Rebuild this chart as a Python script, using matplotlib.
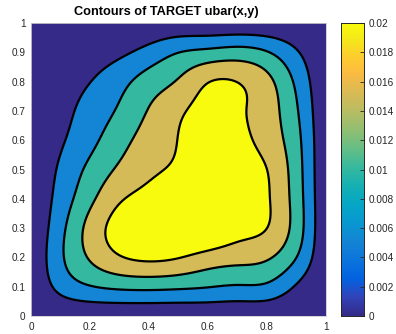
import numpy as np
import matplotlib
matplotlib.use("Agg")
import matplotlib.pyplot as plt
from matplotlib.colors import LinearSegmentedColormap, Normalize

# Sample grid of ubar(x, y) on [0,1]x[0,1] (rows: y, columns: x)
x_nodes = np.linspace(0.0, 1.0, 11)
y_nodes = np.linspace(0.0, 1.0, 11)
ubar = np.array([
    [0, 0,      0,      0,      0,      0,      0,      0,      0,      0,      0],
    [0, 0.0065, 0.0097, 0.0110, 0.0113, 0.0109, 0.0102, 0.0095, 0.0090, 0.0045, 0],
    [0, 0.0091, 0.0155, 0.0196, 0.0210, 0.0202, 0.0181, 0.0168, 0.0156, 0.0100, 0],
    [0, 0.0085, 0.0167, 0.0220, 0.0240, 0.0250, 0.0250, 0.0220, 0.0200, 0.0127, 0],
    [0, 0.0070, 0.0138, 0.0194, 0.0220, 0.0250, 0.0250, 0.0230, 0.0205, 0.0126, 0],
    [0, 0.0058, 0.0112, 0.0158, 0.0188, 0.0215, 0.0250, 0.0230, 0.0200, 0.0122, 0],
    [0, 0.0043, 0.0086, 0.0132, 0.0170, 0.0202, 0.0250, 0.0220, 0.0181, 0.0115, 0],
    [0, 0.0033, 0.0069, 0.0107, 0.0153, 0.0190, 0.0220, 0.0208, 0.0174, 0.0105, 0],
    [0, 0.0025, 0.0049, 0.0083, 0.0123, 0.0155, 0.0198, 0.0199, 0.0164, 0.0090, 0],
    [0, 0.0015, 0.0025, 0.0040, 0.0068, 0.0099, 0.0113, 0.0121, 0.0103, 0.0055, 0],
    [0, 0,      0,      0,      0,      0,      0,      0,      0,      0,      0],
])
contour_levels = [0.005, 0.010, 0.015, 0.020]
clim = (0.0, 0.02)
cbar_ticks = [0, 0.002, 0.004, 0.006, 0.008, 0.01, 0.012, 0.014, 0.016, 0.018, 0.02]
cbar_ticklabels = ["0", "0.002", "0.004", "0.006", "0.008", "0.01",
                   "0.012", "0.014", "0.016", "0.018", "0.02"]
x_ticks = [0, 0.2, 0.4, 0.6, 0.8, 1]
x_ticklabels = ["0", "0.2", "0.4", "0.6", "0.8", "1"]
y_ticks = [0, 0.1, 0.2, 0.3, 0.4, 0.5, 0.6, 0.7, 0.8, 0.9, 1]
y_ticklabels = ["0", "0.1", "0.2", "0.3", "0.4", "0.5", "0.6", "0.7", "0.8", "0.9", "1"]
title = "Contours of TARGET ubar(x,y)"

# parula-like colormap
parula_pts = [
    (0 / 63, (0.2081, 0.1663, 0.5292)),
    (4 / 63, (0.1959, 0.2645, 0.7279)),
    (8 / 63, (0.0117, 0.3875, 0.8820)),
    (12 / 63, (0.0498, 0.4586, 0.8641)),
    (16 / 63, (0.0793, 0.5200, 0.8312)),
    (20 / 63, (0.0343, 0.5966, 0.8199)),
    (24 / 63, (0.0228, 0.6535, 0.7768)),
    (28 / 63, (0.0843, 0.6928, 0.7062)),
    (32 / 63, (0.2178, 0.7250, 0.6193)),
    (36 / 63, (0.3953, 0.7459, 0.5244)),
    (40 / 63, (0.5709, 0.7485, 0.4494)),
    (44 / 63, (0.7184, 0.7411, 0.3905)),
    (48 / 63, (0.8507, 0.7299, 0.3360)),
    (52 / 63, (0.9739, 0.7314, 0.2666)),
    (54 / 63, (0.9990, 0.7653, 0.2164)),
    (56 / 63, (0.9880, 0.8066, 0.1794)),
    (60 / 63, (0.9598, 0.9218, 0.0948)),
    (63 / 63, (0.9763, 0.9831, 0.0538)),
]
parula = LinearSegmentedColormap.from_list("parula", parula_pts, N=256)
norm = Normalize(*clim)


def spline_matrix(nodes, fine):
    """Linear operator mapping node values to natural cubic spline values."""
    n = len(nodes)
    h = np.diff(nodes)
    # system for interior second derivatives
    A = np.zeros((n, n))
    A[0, 0] = A[-1, -1] = 1.0
    B = np.zeros((n, n))
    for i in range(1, n - 1):
        A[i, i - 1] = h[i - 1] / 6
        A[i, i] = (h[i - 1] + h[i]) / 3
        A[i, i + 1] = h[i] / 6
        B[i, i - 1] = 1 / h[i - 1]
        B[i, i] = -1 / h[i - 1] - 1 / h[i]
        B[i, i + 1] = 1 / h[i]
    Mop = np.linalg.solve(A, B)  # second derivatives = Mop @ values
    idx = np.clip(np.searchsorted(nodes, fine, side="right") - 1, 0, n - 2)
    out = np.zeros((len(fine), n))
    for k, (t, i) in enumerate(zip(fine, idx)):
        hi = h[i]
        a = (nodes[i + 1] - t) / hi
        b = (t - nodes[i]) / hi
        out[k, i] += a
        out[k, i + 1] += b
        c = (a ** 3 - a) * hi ** 2 / 6
        d = (b ** 3 - b) * hi ** 2 / 6
        out[k] += c * Mop[i] + d * Mop[i + 1]
    return out


plt.rcParams["font.family"] = ["Liberation Sans", "DejaVu Sans"]
text_color = (0.15, 0.15, 0.15)

fig = plt.figure(figsize=(3.96, 3.34), dpi=100)
ax = fig.add_axes([31 / 396, 18 / 334, 295 / 396, 293 / 334])
cax = fig.add_axes([341 / 396, 18 / 334, 23 / 396, 293 / 334])

# smooth the sampled field for drawing
xf = np.linspace(0, 1, 301)
yf = np.linspace(0, 1, 301)
Z = spline_matrix(y_nodes, yf) @ ubar @ spline_matrix(x_nodes, xf).T
XF, YF = np.meshgrid(xf, yf)

fill_levels = [-1.0] + contour_levels + [1.0]
fill_colors = [parula(norm(v)) for v in [clim[0]] + contour_levels]
ax.contourf(XF, YF, Z, levels=fill_levels, colors=fill_colors)
ax.contour(XF, YF, Z, levels=contour_levels, colors="black", linewidths=1.6)

ax.set_xlim(0, 1)
ax.set_ylim(0, 1)
ax.set_xticks(x_ticks)
ax.set_xticklabels(x_ticklabels)
ax.set_yticks(y_ticks)
ax.set_yticklabels(y_ticklabels)
ax.tick_params(length=0, labelsize=7.2, colors=text_color, pad=4)
for s in ax.spines.values():
    s.set_color((0.8, 0.8, 0.8))
    s.set_linewidth(0.6)
fig.text(166 / 396, 1 - 12.5 / 334, title, fontsize=9.2, fontweight="bold",
         color="black", ha="center", va="center")

# colorbar
grad = np.linspace(clim[0], clim[1], 256).reshape(-1, 1)
cax.imshow(grad, aspect="auto", origin="lower", cmap=parula, norm=norm,
           extent=[0, 1, clim[0], clim[1]])
cax.set_xticks([])
cax.yaxis.tick_right()
cax.set_yticks(cbar_ticks)
cax.set_yticklabels(cbar_ticklabels)
cax.tick_params(axis="y", direction="in", length=3, width=0.6, labelsize=7.2,
                colors=text_color, pad=3)
cax.set_ylim(*clim)
for s in cax.spines.values():
    s.set_color(text_color)
    s.set_linewidth(0.7)

fig.savefig("out.png", dpi=100)
